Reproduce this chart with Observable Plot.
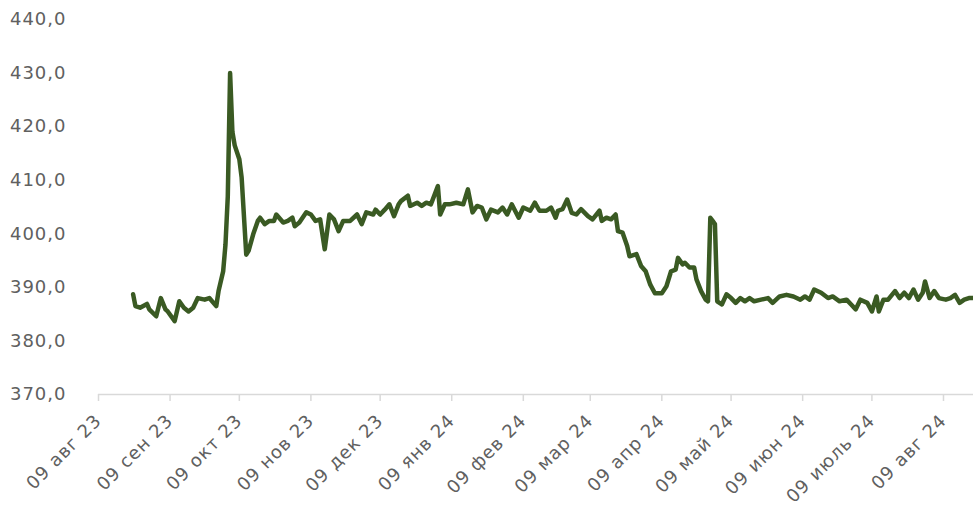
<!DOCTYPE html>
<html>
<head>
<meta charset="utf-8">
<script src="https://cdn.jsdelivr.net/npm/d3@7"></script>
<script src="https://cdn.jsdelivr.net/npm/@observablehq/plot@0.6"></script>
<style>
  html, body { margin: 0; padding: 0; background: #ffffff; }
  #chart { width: 973px; height: 510px; overflow: hidden; }
</style>
</head>
<body>
<div id="chart"></div>
<script>
const dates = [
  "2023-08-24","2023-08-25","2023-08-27","2023-08-30","2023-08-31","2023-09-03","2023-09-05","2023-09-07","2023-09-08","2023-09-11",
  "2023-09-13","2023-09-15","2023-09-17","2023-09-19","2023-09-21","2023-09-24","2023-09-26","2023-09-29","2023-09-30","2023-10-02",
  "2023-10-03","2023-10-04","2023-10-05","2023-10-06","2023-10-07","2023-10-09","2023-10-10","2023-10-12","2023-10-13","2023-10-15",
  "2023-10-17","2023-10-18","2023-10-20","2023-10-22","2023-10-24","2023-10-25","2023-10-28","2023-10-30","2023-11-01","2023-11-02",
  "2023-11-04","2023-11-07","2023-11-09","2023-11-11","2023-11-13","2023-11-15","2023-11-17","2023-11-19","2023-11-21","2023-11-23",
  "2023-11-26","2023-11-29","2023-12-01","2023-12-03","2023-12-06","2023-12-07","2023-12-09","2023-12-11","2023-12-13","2023-12-15",
  "2023-12-17","2023-12-18","2023-12-21","2023-12-22","2023-12-25","2023-12-27","2023-12-29","2023-12-31","2024-01-03","2024-01-04",
  "2024-01-06","2024-01-08","2024-01-11","2024-01-14","2024-01-16","2024-01-18","2024-01-20","2024-01-22","2024-01-24","2024-01-26",
  "2024-01-29","2024-01-31","2024-02-02","2024-02-04","2024-02-07","2024-02-09","2024-02-12","2024-02-14","2024-02-16","2024-02-19",
  "2024-02-21","2024-02-23","2024-02-24","2024-02-26","2024-02-28","2024-03-01","2024-03-03","2024-03-05","2024-03-08","2024-03-10",
  "2024-03-13","2024-03-14","2024-03-16","2024-03-18","2024-03-20","2024-03-21","2024-03-23","2024-03-25","2024-03-26","2024-03-29",
  "2024-03-31","2024-04-02","2024-04-04","2024-04-06","2024-04-09","2024-04-11","2024-04-13","2024-04-15","2024-04-16","2024-04-18",
  "2024-04-19","2024-04-21","2024-04-23","2024-04-24","2024-04-26","2024-04-28","2024-04-29","2024-04-30","2024-05-01","2024-05-02",
  "2024-05-03","2024-05-05","2024-05-07","2024-05-09","2024-05-11","2024-05-13","2024-05-15","2024-05-17","2024-05-19","2024-05-22",
  "2024-05-25","2024-05-27","2024-05-30","2024-06-02","2024-06-05","2024-06-08","2024-06-10","2024-06-12","2024-06-14","2024-06-17",
  "2024-06-20","2024-06-22","2024-06-25","2024-06-28","2024-06-30","2024-07-02","2024-07-04","2024-07-07","2024-07-09","2024-07-11",
  "2024-07-12","2024-07-14","2024-07-16","2024-07-19","2024-07-21","2024-07-23","2024-07-25","2024-07-27","2024-07-29","2024-07-31",
  "2024-08-01","2024-08-03","2024-08-05","2024-08-07","2024-08-10","2024-08-12","2024-08-14","2024-08-16","2024-08-18","2024-08-20",
  "2024-08-22"
];
const values = [
  388.7,386.5,386.2,386.9,385.9,384.6,388.0,385.9,385.5,383.7,
  387.4,386.2,385.5,386.2,388.0,387.7,388.0,386.5,389.3,393.0,
  398.0,407.0,430.0,419.0,416.5,413.9,410.5,396.1,396.8,399.9,
  402.4,403.0,401.8,402.4,402.4,403.6,402.1,402.4,403.0,401.4,
  402.1,404.0,403.6,402.4,402.7,397.1,403.6,402.7,400.5,402.4,
  402.4,403.6,401.8,404.0,403.6,404.5,403.6,404.5,405.5,403.3,
  405.5,406.1,407.1,405.2,405.8,405.2,405.8,405.5,408.9,403.6,
  405.5,405.5,405.8,405.5,408.3,404.0,405.2,404.9,402.7,404.5,
  404.0,404.9,403.6,405.5,403.0,404.9,404.3,405.8,404.3,404.3,
  404.9,403.0,404.3,404.6,406.4,403.9,403.6,404.6,403.3,402.7,
  404.3,402.4,403.0,402.7,403.6,400.5,400.2,397.7,395.8,396.2,
  394.0,393.0,390.5,388.9,388.9,390.2,393.0,393.3,395.5,394.3,
  394.6,393.7,393.7,391.5,389.3,387.7,387.4,403.0,402.4,401.8,
  387.4,386.8,388.7,388.0,387.1,388.0,387.4,388.0,387.4,387.7,
  388.0,387.1,388.3,388.6,388.3,387.7,388.3,387.7,389.6,389.0,
  388.0,388.3,387.4,387.7,386.8,385.9,387.7,387.1,385.5,388.3,
  385.5,387.7,387.7,389.3,388.0,389.0,388.0,389.6,387.7,389.0,
  391.1,388.0,389.3,388.0,387.7,388.0,388.6,387.1,387.7,388.0,
  388.0
];
const tickDates = [
  "2023-08-09","2023-09-09","2023-10-09","2023-11-09","2023-12-09","2024-01-09","2024-02-09",
  "2024-03-09","2024-04-09","2024-05-09","2024-06-09","2024-07-09","2024-08-09"
];
const tickLabels = [
  "09 авг 23","09 сен 23","09 окт 23","09 нов 23","09 дек 23","09 янв 24","09 фев 24",
  "09 мар 24","09 апр 24","09 май 24","09 июн 24","09 июль 24","09 авг 24"
];
const yTicks = [370, 380, 390, 400, 410, 420, 430, 440];
const xDomain = ["2023-08-09", "2024-08-22"];

const data = dates.map((d, i) => ({date: new Date(d), value: values[i]}));
const ticks = tickDates.map(d => new Date(d));
const fmtY = d => d3.format(".1f")(d).replace(".", ",");

const chart = Plot.plot({
  width: 973,
  height: 510,
  marginTop: 19,
  marginBottom: 116,
  marginLeft: 98,
  marginRight: 0,
  style: {fontFamily: "DejaVu Sans", fontSize: "18px", letterSpacing: "1px", color: "#606060", background: "#ffffff"},
  x: {type: "utc", domain: xDomain.map(d => new Date(d))},
  y: {domain: [370, 440]},
  marks: [
    Plot.axisY({ticks: yTicks, tickFormat: fmtY, tickSize: 0, tickPadding: 32, label: null, fill: "#606060"}),
    Plot.ruleY([370], {stroke: "#d9d9d9", strokeWidth: 1.5}),
    Plot.axisX({ticks: ticks, tickFormat: (d, i) => tickLabels[i], tickSize: 7, tickRotate: -45, tickPadding: 16,
                label: null, stroke: "#d9d9d9", strokeWidth: 1.5, fill: "#606060"}),
    Plot.line(data, {x: "date", y: "value", stroke: "#3a5a23", strokeWidth: 4.5, strokeLinejoin: "round", strokeLinecap: "round"})
  ]
});
document.getElementById("chart").appendChild(chart);
</script>
</body>
</html>
